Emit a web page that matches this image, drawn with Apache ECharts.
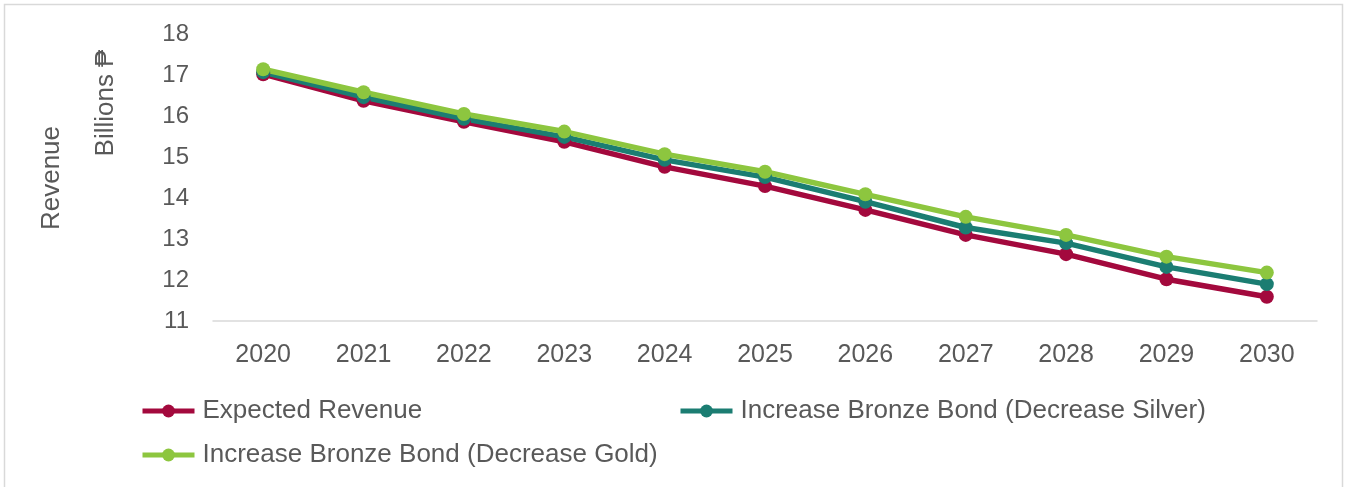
<!DOCTYPE html>
<html>
<head>
<meta charset="utf-8">
<script src="https://cdn.jsdelivr.net/npm/echarts@6/dist/echarts.min.js"></script>
<style>
  html, body { margin: 0; padding: 0; background: #fff; }
  #chart { width: 1349px; height: 487px; }
</style>
</head>
<body>
<div id="chart"></div>
<script>
// Revenue projections, billions
const years = ['2020', '2021', '2022', '2023', '2024', '2025', '2026', '2027', '2028', '2029', '2030'];
const expectedRevenue = [17.02, 16.37, 15.86, 15.37, 14.76, 14.29, 13.71, 13.10, 12.63, 12.02, 11.59];
const decreaseSilver  = [17.07, 16.46, 15.93, 15.49, 14.93, 14.51, 13.91, 13.28, 12.90, 12.32, 11.90];
const decreaseGold    = [17.14, 16.58, 16.05, 15.62, 15.07, 14.64, 14.09, 13.54, 13.10, 12.57, 12.18];

const seriesNames = [
  'Expected Revenue',
  'Increase Bronze Bond (Decrease Silver)',
  'Increase Bronze Bond (Decrease Gold)'
];
const yTicks = { min: 11, max: 18, step: 1 };

const colors = ['#A3093D', '#1B7D72', '#8DC63F'];
const textColor = '#595959';
const font = 'Liberation Sans, Arial, sans-serif';

const chart = echarts.init(document.getElementById('chart'), null, { renderer: 'canvas' });

function lineSeries(name, data, color) {
  return {
    name: name,
    type: 'line',
    data: data,
    symbol: 'circle',
    symbolSize: 14,
    lineStyle: { width: 5.5, color: color },
    itemStyle: { color: color },
    emphasis: { disabled: true },
    animation: false
  };
}

function legendFor(name, color, left, top) {
  return {
    data: [name],
    left: left,
    top: top,
    padding: 0,
    itemWidth: 52,
    itemHeight: 16,
    itemStyle: { color: color },
    lineStyle: { width: 5, color: color },
    textStyle: { color: textColor, fontSize: 26, fontFamily: font, padding: [0, 0, 0, 3] },
    selectedMode: false
  };
}

chart.setOption({
  backgroundColor: '#fff',
  animation: false,
  grid: { left: 213, right: 32, top: 34, bottom: 166 },
  legend: [
    legendFor(seriesNames[0], colors[0], 140, 398),
    legendFor(seriesNames[1], colors[1], 678, 398),
    legendFor(seriesNames[2], colors[2], 140, 442)
  ],
  xAxis: {
    type: 'category',
    data: years,
    boundaryGap: true,
    axisLine: { lineStyle: { color: '#D9D9D9', width: 1.5 } },
    axisTick: { show: false },
    axisLabel: { color: textColor, fontSize: 25, fontFamily: font, margin: 22 }
  },
  yAxis: {
    type: 'value',
    min: yTicks.min,
    max: yTicks.max,
    interval: yTicks.step,
    axisLine: { show: false },
    axisTick: { show: false },
    splitLine: { show: false },
    axisLabel: { color: textColor, fontSize: 24, fontFamily: font, margin: 24 }
  },
  graphic: [
    {
      type: 'rect',
      shape: { x: 4.5, y: 4.5, width: 1338, height: 500 },
      style: { fill: 'none', stroke: '#D9D9D9', lineWidth: 1.5 },
      silent: true
    },
    {
      type: 'text',
      x: 52, y: 178,
      rotation: Math.PI / 2,
      style: {
        text: 'Revenue', fill: textColor, fontSize: 26, fontFamily: font,
        align: 'center', verticalAlign: 'middle'
      }
    },
    {
      type: 'text',
      x: 106, y: 103,
      rotation: Math.PI / 2,
      style: {
        text: 'Billions \u20B1', fill: textColor, fontSize: 26, fontFamily: font,
        align: 'center', verticalAlign: 'middle'
      }
    }
  ],
  series: [
    lineSeries(seriesNames[0], expectedRevenue, colors[0]),
    lineSeries(seriesNames[1], decreaseSilver, colors[1]),
    lineSeries(seriesNames[2], decreaseGold, colors[2])
  ]
});
</script>
</body>
</html>
